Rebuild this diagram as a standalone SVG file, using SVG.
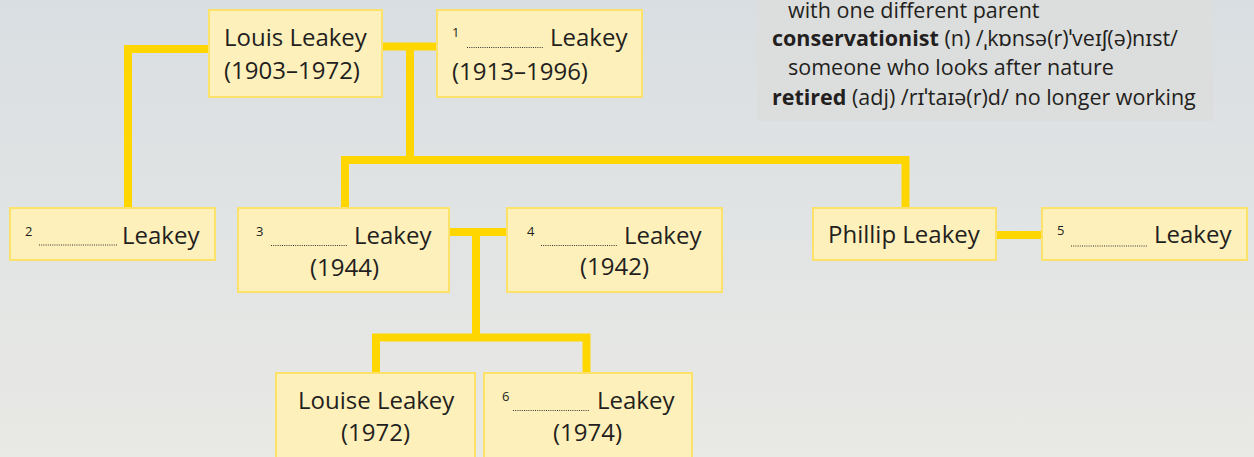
<svg xmlns="http://www.w3.org/2000/svg" width="1254" height="457" viewBox="0 0 1254 457">
<defs>
<linearGradient id="bg" x1="0" y1="0" x2="0" y2="1">
<stop offset="0" stop-color="#d9dee2"/>
<stop offset="0.5" stop-color="#e1e4e4"/>
<stop offset="1" stop-color="#e9e9e5"/>
</linearGradient>
<style>
.box{fill:#fef0bb;stroke:#fde26a;stroke-width:2}
.con{fill:none;stroke:#ffd600;stroke-width:8;stroke-linejoin:miter;stroke-linecap:butt}
.t{font-family:"Open Sans","Noto Sans","Liberation Sans",sans-serif;font-size:24px;fill:#231f20}
.sup{font-family:"Open Sans","Noto Sans","Liberation Sans",sans-serif;font-size:13px;fill:#231f20}
.dot{stroke:#333;stroke-width:1.2;stroke-dasharray:1 1.2}
.g{font-family:"Open Sans","Noto Sans","DejaVu Sans",sans-serif;font-size:21.5px;fill:#231f20}
.b{font-weight:bold}
</style>
</defs>
<rect x="0" y="0" width="1254" height="457" fill="url(#bg)"/>
<g id="glossary">
<rect x="757" y="-2" width="456" height="123" fill="#dcdddd"/>
<text class="g" x="788" y="18">with one different parent</text>
<text class="g" x="772" y="46"><tspan class="b">conservationist</tspan> (n) /ˌkɒnsə(r)ˈveɪʃ(ə)nɪst/</text>
<text class="g" x="788" y="75">someone who looks after nature</text>
<text class="g" x="772" y="105"><tspan class="b">retired</tspan> (adj) /rɪˈtaɪə(r)d/ no longer working</text>
</g>
<g id="connectors">
<path class="con" d="M209 49 H128 V208"/>
<path class="con" d="M382 46.5 H437"/>
<path class="con" d="M410 46 V160"/>
<path class="con" d="M345 208 V160 H905.5 V208"/>
<path class="con" d="M449 232 H507"/>
<path class="con" d="M476 232 V337.5"/>
<path class="con" d="M376 373 V337.5 H586.5 V373"/>
<path class="con" d="M996 235 H1042"/>
</g>
<g id="louis">
<rect class="box" x="209" y="10" width="173" height="87"/>
<text class="t" x="224" y="46">Louis Leakey</text>
<text class="t" x="224" y="79">(1903–1972)</text>
</g>
<g id="n1">
<rect class="box" x="437" y="10" width="205" height="87"/>
<text class="sup" x="452" y="37">1</text>
<line class="dot" x1="467" y1="47.5" x2="544" y2="47.5"/>
<text class="t" x="550" y="46">Leakey</text>
<text class="t" x="452" y="80">(1913–1996)</text>
</g>
<g id="n2">
<rect class="box" x="10" y="208" width="205" height="52"/>
<text class="sup" x="25" y="236">2</text>
<line class="dot" x1="39" y1="245" x2="117" y2="245"/>
<text class="t" x="122" y="244">Leakey</text>
</g>
<g id="n3">
<rect class="box" x="238" y="208" width="211" height="84"/>
<text class="sup" x="256" y="236">3</text>
<line class="dot" x1="271" y1="245.5" x2="348" y2="245.5"/>
<text class="t" x="354" y="244">Leakey</text>
<text class="t" x="310" y="276">(1944)</text>
</g>
<g id="n4">
<rect class="box" x="507" y="208" width="215" height="84"/>
<text class="sup" x="527" y="236">4</text>
<line class="dot" x1="541" y1="245.5" x2="618" y2="245.5"/>
<text class="t" x="624" y="244">Leakey</text>
<text class="t" x="580" y="275">(1942)</text>
</g>
<g id="phillip">
<rect class="box" x="813" y="208" width="183" height="52"/>
<text class="t" x="828" y="243">Phillip Leakey</text>
</g>
<g id="n5">
<rect class="box" x="1042" y="208" width="205" height="52"/>
<text class="sup" x="1057" y="235">5</text>
<line class="dot" x1="1071" y1="246" x2="1148" y2="246"/>
<text class="t" x="1154" y="243">Leakey</text>
</g>
<g id="louise">
<rect class="box" x="276" y="373" width="199" height="90"/>
<text class="t" x="298" y="409">Louise Leakey</text>
<text class="t" x="341" y="441">(1972)</text>
</g>
<g id="n6">
<rect class="box" x="484" y="373" width="208" height="90"/>
<text class="sup" x="502" y="401">6</text>
<line class="dot" x1="513" y1="410.5" x2="590" y2="410.5"/>
<text class="t" x="597" y="409">Leakey</text>
<text class="t" x="553" y="441">(1974)</text>
</g>
</svg>
